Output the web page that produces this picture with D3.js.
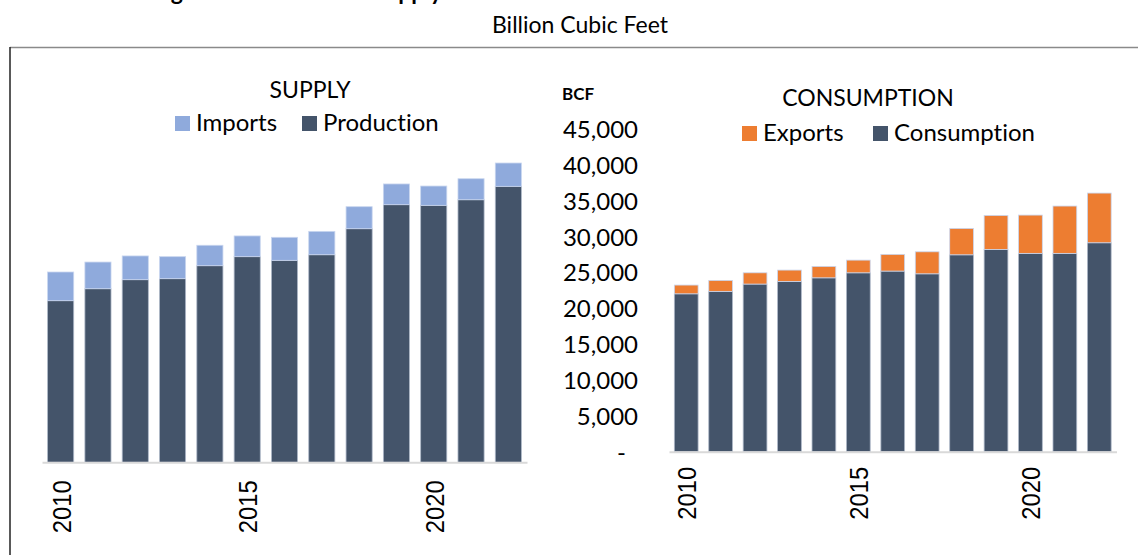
<!DOCTYPE html>
<html>
<head>
<meta charset="utf-8">
<script src="https://cdn.jsdelivr.net/npm/d3@7"></script>
<style>
  html, body { margin: 0; padding: 0; background: #fff; }
  svg { display: block; }
  text { font-variant-ligatures: none; font-feature-settings: "liga" 0, "dlig" 0, "clig" 0; }
</style>
</head>
<body>
<svg id="chart" width="1138" height="555"></svg>
<script>
// Natural gas balance, billion cubic feet
const years = [2010, 2011, 2012, 2013, 2014, 2015, 2016, 2017, 2018, 2019, 2020, 2021, 2022];
const production  = [22540, 24210, 25470, 25610, 27420, 28680, 28170, 28950, 32580, 35930, 35840, 36620, 38490];
const imports     = [4000, 3720, 3310, 3070, 2850, 2890, 3210, 3260, 3070, 2890, 2690, 2930, 3250];
const consumption = [22020, 22360, 23380, 23750, 24250, 24950, 25190, 24810, 27460, 28210, 27660, 27660, 29140];
const exportsBcf  = [1220, 1530, 1570, 1580, 1590, 1770, 2330, 3070, 3680, 4740, 5340, 6600, 6930];
const yTicks = [0, 5000, 10000, 15000, 20000, 25000, 30000, 35000, 40000, 45000];
const xTickYears = [2010, 2015, 2020];

const DARK = "#44546a", LIGHT_BLUE = "#8faadc", ORANGE = "#ed7d31";
const LABEL_FONT = "Lato, 'Open Sans', sans-serif";
const AXIS_FONT = "'Liberation Sans', Arial, sans-serif";

const svg = d3.select("#chart");

// Heading (runs off the top edge) and unit line
svg.append("text")
  .attr("x", 152).attr("y", 0)
  .attr("font-family", LABEL_FONT).attr("font-weight", 700).attr("font-size", 23)
  .attr("fill", "#000")
  .text("Figure 3: Natural Gas Supply");
svg.append("text")
  .attr("x", 580).attr("y", 33)
  .attr("text-anchor", "middle")
  .attr("font-family", LABEL_FONT).attr("font-size", 23)
  .attr("fill", "#000")
  .text("Billion Cubic Feet");

// Frame
svg.append("line").attr("x1", 10).attr("x2", 1138).attr("y1", 47.5).attr("y2", 47.5)
  .attr("stroke", "#8a8a8a").attr("stroke-width", 1.5);
svg.append("line").attr("x1", 10).attr("x2", 10).attr("y1", 47).attr("y2", 555)
  .attr("stroke", "#222").attr("stroke-width", 1.5);

function stackedPanel(opts) {
  const g = svg.append("g");
  const x = d3.scaleBand().domain(years).range(opts.xRange).paddingInner(opts.pad).paddingOuter(opts.pad / 2);
  const y = d3.scaleLinear().domain([0, 45000]).range([opts.base, opts.base - 45 * 7.17]);

  const rows = years.map((yr, i) => ({ year: yr, lower: opts.lower[i], upper: opts.upper[i] }));
  const stack = d3.stack().keys(["lower", "upper"])(rows);
  const colors = [DARK, opts.upperColor];

  stack.forEach((layer, li) => {
    g.append("g").selectAll("rect").data(layer).join("rect")
      .attr("x", d => x(d.data.year))
      .attr("width", x.bandwidth())
      .attr("y", d => y(d[1]))
      .attr("height", d => y(d[0]) - y(d[1]))
      .attr("fill", colors[li])
      .attr("stroke", li === 0 ? "#aeb8c8" : "#c9d6ef")
      .attr("stroke-width", 0.8);
  });

  // category axis
  const xAxis = d3.axisBottom(x).tickValues(xTickYears).tickSize(0).tickPadding(0);
  const ax = g.append("g").attr("transform", `translate(0,${opts.base})`).call(xAxis);
  ax.select(".domain").attr("stroke", "#d9d9d9").attr("stroke-width", 2);
  ax.selectAll(".tick text")
    .attr("font-family", AXIS_FONT).attr("font-size", 26).attr("fill", "#000")
    .attr("textLength", 53).attr("lengthAdjust", "spacingAndGlyphs")
    .attr("text-anchor", "end").attr("dominant-baseline", "central")
    .attr("dy", null)
    .attr("transform", `translate(1,${opts.labelGap}) rotate(-90)`)
    .attr("x", 0).attr("y", 0);

  return { g, x, y };
}

// SUPPLY panel
stackedPanel({
  xRange: [42, 527], pad: 0.30, base: 462.3,
  lower: production, upper: imports, upperColor: LIGHT_BLUE, labelGap: 18
});

// CONSUMPTION panel with value axis
const right = stackedPanel({
  xRange: [669, 1116.5], pad: 0.31, base: 451.7,
  lower: consumption, upper: exportsBcf, upperColor: ORANGE, labelGap: 15
});

const yAxis = d3.axisLeft(right.y).tickValues(yTicks).tickSize(0).tickPadding(0)
  .tickFormat(d => d === 0 ? "-" : d3.format(",")(d));
const ya = svg.append("g").attr("transform", "translate(638,0)").call(yAxis);
ya.select(".domain").remove();
ya.selectAll(".tick text")
  .attr("font-family", LABEL_FONT).attr("font-size", 24).attr("fill", "#000")
  .attr("dy", "0.35em")
  .attr("x", d => d === 0 ? -12 : 0);

svg.append("text").attr("x", 562).attr("y", 100)
  .attr("font-family", LABEL_FONT).attr("font-weight", 700).attr("font-size", 17)
  .text("BCF");

// Panel titles and legends
function legend(title, titleX, titleY, items) {
  svg.append("text").attr("x", titleX).attr("y", titleY)
    .attr("text-anchor", "middle")
    .attr("font-family", LABEL_FONT).attr("font-size", 23).attr("fill", "#000")
    .text(title);
  items.forEach(it => {
    svg.append("rect").attr("x", it.x).attr("y", it.y).attr("width", 15).attr("height", 15)
      .attr("fill", it.color);
    svg.append("text").attr("x", it.x + 21).attr("y", it.y + 15)
      .attr("font-family", LABEL_FONT).attr("font-size", 24).attr("fill", "#000")
      .text(it.label);
  });
}

legend("SUPPLY", 310, 98, [
  { label: "Imports", color: LIGHT_BLUE, x: 175, y: 116 },
  { label: "Production", color: DARK, x: 302, y: 116 }
]);
legend("CONSUMPTION", 868, 105.7, [
  { label: "Exports", color: ORANGE, x: 742, y: 126 },
  { label: "Consumption", color: DARK, x: 873, y: 126 }
]);
</script>
</body>
</html>
